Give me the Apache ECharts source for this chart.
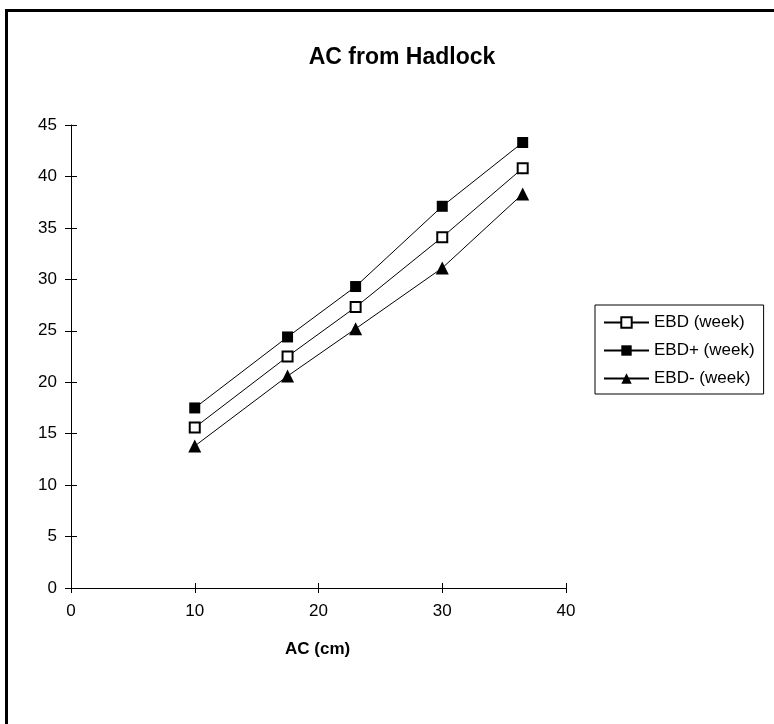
<!DOCTYPE html>
<html>
<head>
<meta charset="utf-8">
<script src="https://cdn.jsdelivr.net/npm/echarts@6/dist/echarts.min.js"></script>
<style>
  html, body { margin: 0; padding: 0; background: #fff; }
  #main { width: 774px; height: 724px; }
</style>
</head>
<body>
<div id="main"></div>
<script>
// AC (cm) on x, gestational age in weeks on y
var acValues = [10, 17.5, 23, 30, 36.5];
var ebd = [15.6, 22.5, 27.3, 34.1, 40.8];
var ebdPlus = [17.5, 24.4, 29.3, 37.1, 43.3];
var ebdMinus = [13.8, 20.6, 25.2, 31.1, 38.3];
var seriesNames = ['EBD (week)', 'EBD+ (week)', 'EBD- (week)'];

function pairs(ys) {
    return acValues.map(function (x, i) { return [x, ys[i]]; });
}

var font = 'Arial, "Liberation Sans", sans-serif';
var myChart = echarts.init(document.getElementById('main'));

var lineStyle = { color: '#000', width: 1 };

var option = {
    backgroundColor: '#fff',
    animation: false,
    title: {
        text: 'AC from Hadlock',
        left: 397, top: 41,
        textAlign: 'center',
        textStyle: { fontFamily: font, fontSize: 23, fontWeight: 'bold', color: '#000' }
    },
    graphic: [{
        type: 'rect',
        shape: { x: 6.5, y: 10.5, width: 790, height: 740 },
        style: { fill: null, stroke: '#000', lineWidth: 3 },
        silent: true
    }, {
        type: 'text',
        left: 285, top: 641,
        style: { text: 'AC (cm)', font: 'bold 17px ' + font, fill: '#000' }
    }],
    legend: {
        orient: 'vertical',
        left: 595, top: 305,
        padding: [9, 9, 7, 8],
        borderColor: '#000', borderWidth: 1,
        itemWidth: 45, itemHeight: 13,
        itemGap: 11,
        data: seriesNames,
        textStyle: { fontFamily: font, fontSize: 17, color: '#000' }
    },
    grid: { left: 71, right: 208, top: 125, bottom: 136 },
    xAxis: [{
        type: 'value', min: 0, max: 40, interval: 10,
        axisLine: { lineStyle: { color: '#000' } },
        axisTick: { length: 5, lineStyle: { color: '#000' } },
        axisLabel: { margin: 15, fontFamily: font, fontSize: 17, color: '#000' },
        splitLine: { show: false }
    }, {
        type: 'value', min: 0, max: 40, interval: 10, position: 'bottom',
        axisLine: { show: false },
        axisTick: { inside: true, length: 5, lineStyle: { color: '#000' } },
        axisLabel: { show: false },
        splitLine: { show: false }
    }],
    yAxis: [{
        type: 'value', min: 0, max: 45, interval: 5,
        axisLine: { show: true, lineStyle: { color: '#000' } },
        axisTick: { show: true, length: 6, lineStyle: { color: '#000' } },
        axisLabel: { margin: 14, fontFamily: font, fontSize: 17, color: '#000' },
        splitLine: { show: false }
    }, {
        type: 'value', min: 0, max: 45, interval: 5, position: 'left',
        axisLine: { show: false },
        axisTick: { show: true, inside: true, length: 6, lineStyle: { color: '#000' } },
        axisLabel: { show: false },
        splitLine: { show: false }
    }],
    series: [{
        name: seriesNames[0], type: 'line', data: pairs(ebd),
        symbol: 'rect', symbolSize: 10,
        itemStyle: { color: '#fff', borderColor: '#000', borderWidth: 2 },
        lineStyle: lineStyle
    }, {
        name: seriesNames[1], type: 'line', data: pairs(ebdPlus),
        symbol: 'rect', symbolSize: 11,
        itemStyle: { color: '#000', borderColor: '#000', borderWidth: 0 },
        lineStyle: lineStyle
    }, {
        name: seriesNames[2], type: 'line', data: pairs(ebdMinus),
        symbol: 'triangle', symbolSize: 13,
        itemStyle: { color: '#000' },
        lineStyle: lineStyle
    }]
};

myChart.setOption(option);
</script>
</body>
</html>
